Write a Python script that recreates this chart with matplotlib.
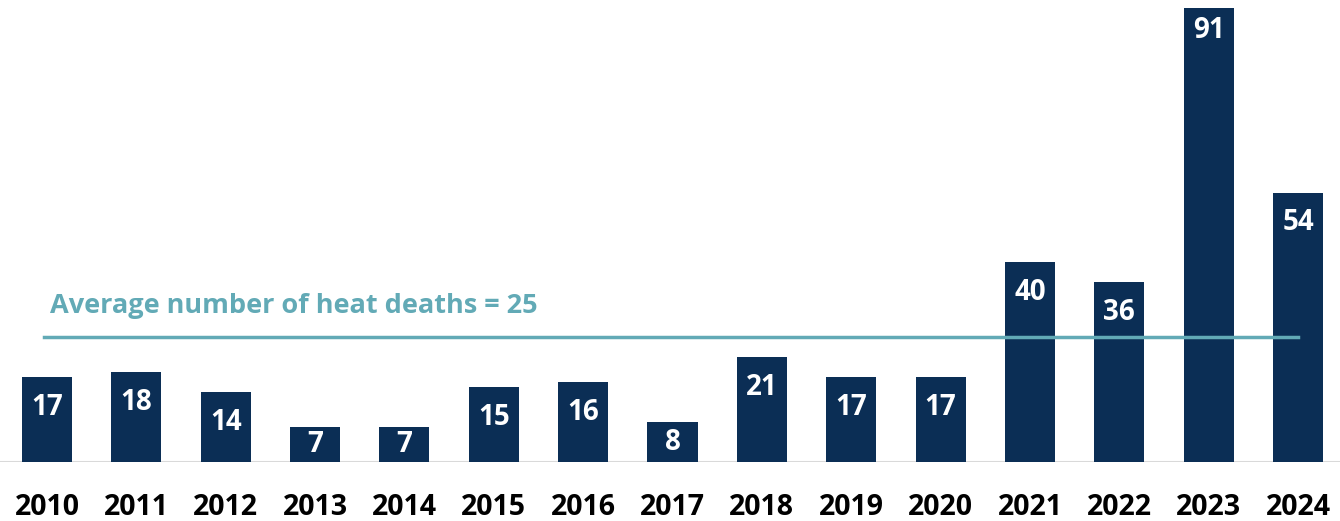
import matplotlib.pyplot as plt
import numpy as np

plt.rcParams['font.family'] = ['Open Sans', 'DejaVu Sans']

years = ['2010', '2011', '2012', '2013', '2014', '2015', '2016', '2017',
         '2018', '2019', '2020', '2021', '2022', '2023', '2024']
deaths = [17, 18, 14, 7, 7, 15, 16, 8, 21, 17, 17, 40, 36, 91, 54]
average = 25
avg_label = 'Average number of heat deaths = 25'

bar_color = '#0b2e55'
teal = '#62aab6'

fig = plt.figure(figsize=(13.4, 5.21), dpi=100)
ax = fig.add_axes([0, 59 / 521, 1, 454 / 521])

x = np.arange(len(years))
ax.bar(x, deaths, width=0.56, color=bar_color, zorder=2)

# value labels inside bars, near the top (centered for short bars)
for xi, v in zip(x, deaths):
    off = 4.5 if v > 80 else 6.0
    y = max(v - off, v / 2)
    ax.text(xi, y, str(v), color='white', fontsize=20, fontweight='bold',
            ha='center', va='center', zorder=3)

# average line + label
ax.plot([x[0] - 0.03, x[-1]], [average, average], color=teal, lw=2.5, zorder=4)
ax.text(x[0] + 0.03, 31.3, avg_label, color=teal, fontsize=19.5, fontweight='bold',
        ha='left', va='center')

ax.set_xlim(-0.526, 14.47)
ax.set_ylim(0, 91)
ax.axhline(0, color='#d9d9d9', lw=1.5, zorder=1)

ax.set_xticks(x)
ax.set_xticklabels(years, fontsize=20.5, fontweight='bold', color='black')
ax.tick_params(axis='x', length=0, pad=22)
ax.set_yticks([])
for s in ax.spines.values():
    s.set_visible(False)

fig.savefig('out.png', dpi=100)
